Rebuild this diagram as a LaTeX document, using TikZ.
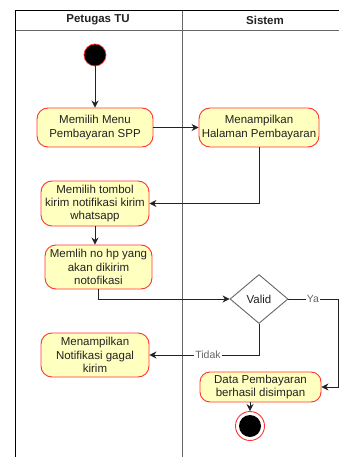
\documentclass[tikz,border=0pt]{standalone}
\usepackage{fontspec}
\setmainfont{Liberation Sans}
\usetikzlibrary{shapes.geometric,arrows.meta}
\definecolor{actfill}{HTML}{FFFFC0}
\definecolor{actline}{HTML}{FF3333}
\definecolor{lanegray}{HTML}{666666}
\definecolor{ink}{HTML}{222222}
\tikzset{
  act/.style={draw=actline, fill=actfill, rounded corners=11pt, line width=0.9pt,
    minimum width=#1, inner sep=0pt, align=center, text=ink,
    font=\fontsize{11.5}{13.2}\selectfont},
  flow/.style={draw=ink, line width=0.8pt, -{Stealth[length=7pt,width=7pt]}},
  lbl/.style={fill=white, inner sep=1pt, text=lanegray, font=\fontsize{10.5}{12}\selectfont},
  lanehead/.style={font=\bfseries\fontsize{11.5}{13}\selectfont, text=ink}
}
\begin{document}
\begin{tikzpicture}[x=1pt,y=-1pt]
\useasboundingbox (0,0) rectangle (339,457);
% swimlane frame
\draw[lanegray, line width=0.9pt] (15.5,30) -- (339,30);
\draw[lanegray, line width=1pt] (182,10.5) -- (182,457);
\draw[black, line width=1pt] (15.5,457) -- (15.5,10.5) -- (339,10.5);
\node[lanehead] (laneA) at (98,20) {Petugas TU};
\node[lanehead] (laneB) at (265,20) {Sistem};
% start and end states
\node[circle, fill=black, draw=actline, line width=0.7pt, minimum size=22pt, inner sep=0pt] (start) at (95,55) {};
\node[circle, draw=actline, fill=white, line width=0.9pt, minimum size=29pt, inner sep=0pt] (stop) at (250,426) {};
\node[circle, fill=black, minimum size=22pt, inner sep=0pt] (stopdot) at (250,426) {};
% activities
\node[act=116pt, minimum height=39pt] (menu) at (95,127.5) {Memilih Menu\\Pembayaran SPP};
\node[act=120pt, minimum height=39pt] (hal) at (259,127.5) {Menampilkan\\Halaman Pembayaran};
\node[act=108pt, minimum height=45pt] (tombol) at (95,203.5) {Memilih tombol\\kirim notifikasi kirim\\whatsapp};
\node[act=107pt, minimum height=44pt] (nohp) at (98.5,267) {Memlih no hp yang\\akan dikirim\\notofikasi};
\node[act=108pt, minimum height=44pt] (gagal) at (95,355) {Menampilkan\\Notifikasi gagal\\kirim};
\node[act=121pt, minimum height=30pt, rounded corners=10pt] (simpan) at (260.5,387) {Data Pembayaran\\berhasil disimpan};
\node[diamond, draw=lanegray, fill=white, line width=0.9pt, minimum width=58pt, minimum height=49pt, inner sep=0pt, aspect=1.18, text=ink, font=\fontsize{11.5}{13}\selectfont] (valid) at (259,299) {};
\node[text=ink, font=\fontsize{11.5}{13}\selectfont] (validtxt) at (259,299) {Valid};
% connectors
\draw[flow] (start) -- (menu);
\draw[flow] (menu) -- (hal);
\draw[flow] (hal.south) |- (tombol.east);
\draw[flow] (tombol) -- (tombol|-nohp.north);
\draw[flow] (nohp.south) |- (valid.west);
\coordinate (yaturn) at (338,299);
\draw[flow] (valid.east) -- (yaturn) |- (simpan.east);
\node[lbl] (ya) at (313,299) {Ya};
\draw[flow] (valid.south) |- (gagal.east);
\node[lbl] (tidak) at (208,355) {Tidak};
\draw[flow] (simpan.south-|stop) -- (stop.north);
\end{tikzpicture}
\end{document}
